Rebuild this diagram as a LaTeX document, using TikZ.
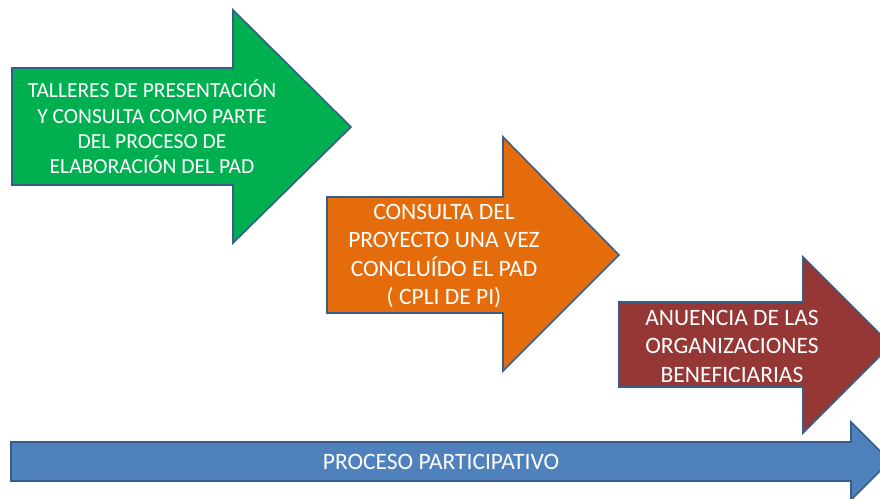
\documentclass[tikz,border=0pt]{standalone}
\usepackage[rgb]{xcolor}
\usepackage{fontspec}
\setmainfont{Carlito}
\usepackage{tikz}

\definecolor{stepgreen}{HTML}{00B050}
\definecolor{steporange}{HTML}{E46C0A}
\definecolor{stepred}{HTML}{953735}
\definecolor{stepblue}{HTML}{4F81BD}
\definecolor{rimblue}{HTML}{385D8A}

\begin{document}
\begin{tikzpicture}[x=1pt, y=-1pt,
  rim/.style={draw=rimblue, line width=1.6pt, line join=miter},
  label/.style={text=white, align=center, inner sep=0pt, font=\fontsize{23.5}{28.5}\selectfont}]

\useasboundingbox (0,0) rectangle (880,498);
\clip (0,0) rectangle (880,498);


% Green arrow
\filldraw[rim, fill=stepgreen] (12,68) -- (233,68) -- (233,10) -- (351,127)
  -- (233,243) -- (233,185) -- (12,185) -- cycle;
\path 
(152,127) node[label, font=\fontsize{21.5}{25.3}\selectfont] (talleres) {TALLERES DE PRESENTACIÓN\\Y CONSULTA COMO PARTE\\DEL PROCESO DE\\ELABORACIÓN DEL PAD};



% Orange arrow
\filldraw[rim, fill=steporange] (327,197) -- (503,197) -- (503,137) -- (619,255)
  -- (503,371) -- (503,313) -- (327,313) -- cycle;
\path 
(444,256) node[label] (consulta) {CONSULTA DEL\\PROYECTO UNA VEZ\\CONCLUÍDO EL PAD\\( CPLI DE PI)};



% Red arrow
\filldraw[rim, fill=stepred] (619,302) -- (803,302) -- (803,257) -- (891,345)
  -- (803,433) -- (803,387) -- (619,387) -- cycle;
\path 
(732,346) node[label] (anuencia) {ANUENCIA DE LAS\\ORGANIZACIONES\\BENEFICIARIAS};



% Blue arrow
\filldraw[rim, fill=stepblue] (11,442) -- (851,442) -- (851,422) -- (890,461)
  -- (851,500) -- (851,481) -- (11,481) -- cycle;
\path 
(441,462) node[label] (proceso) {PROCESO PARTICIPATIVO};


\end{tikzpicture}
\end{document}
